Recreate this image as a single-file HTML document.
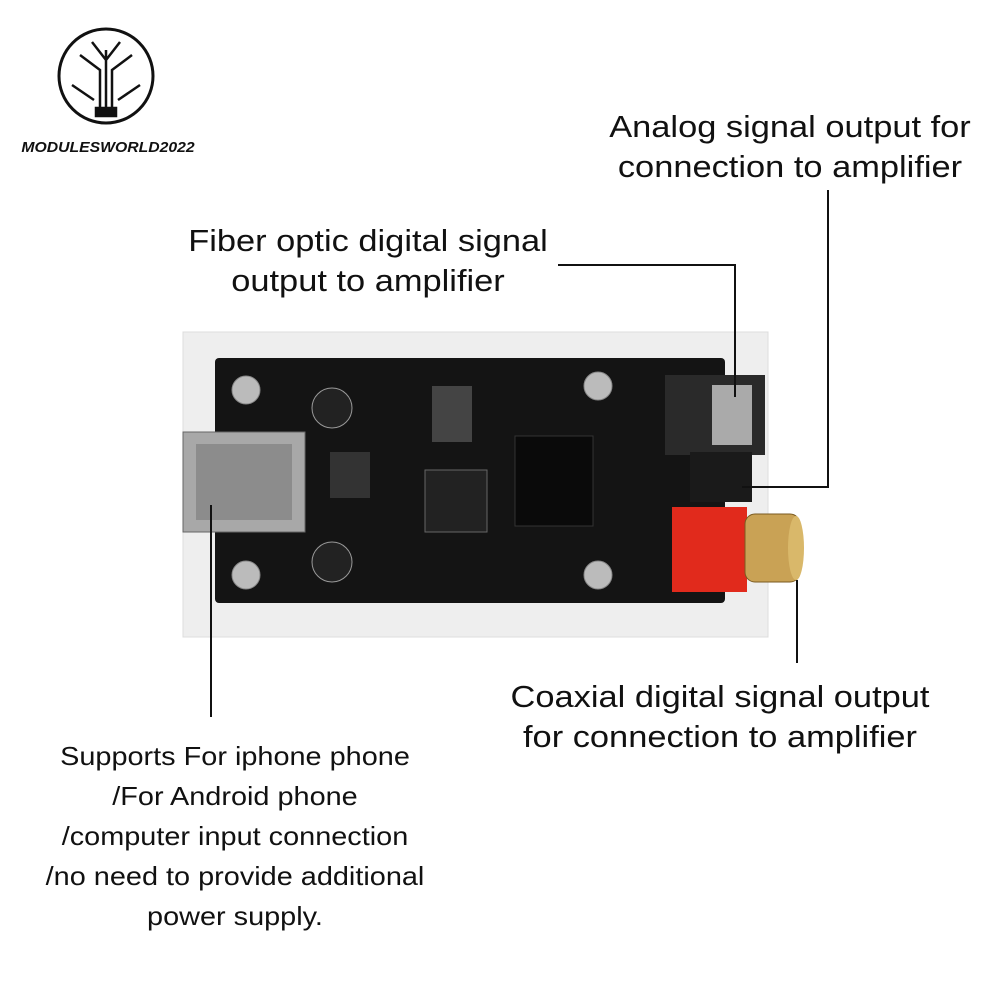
<!DOCTYPE html>
<html><head><meta charset="utf-8"><style>
body{margin:0;width:1000px;height:1000px;background:#fff;position:relative;overflow:hidden;font-family:"Liberation Sans",sans-serif;}
.t{position:absolute;text-align:center;color:#111;white-space:nowrap;transform:scaleX(1.11);transform-origin:center;}
.a{position:absolute;}
</style></head><body>
<svg class="a" style="left:0;top:0" width="1000" height="1000">
 <circle cx="106" cy="76" r="47" fill="#fff" stroke="#111" stroke-width="3"/>
 <g stroke="#111" stroke-width="2.5" fill="none">
  <path d="M106 110 V50 M100 110 V70 L80 55 M112 110 V70 L132 55 M94 100 L72 85 M118 100 L140 85 M106 60 L92 42 M106 60 L120 42"/>
  <rect x="96" y="108" width="20" height="8" fill="#111"/>
 </g>
 <rect x="183" y="332" width="585" height="305" fill="#eeeeee" stroke="#ddd"/>
 <rect x="215" y="358" width="510" height="245" rx="4" fill="#141414"/>
 <g fill="#bbb" stroke="#888"><circle cx="246" cy="390" r="14"/><circle cx="246" cy="575" r="14"/><circle cx="598" cy="386" r="14"/><circle cx="598" cy="575" r="14"/></g>
 <g fill="#222" stroke="#999"><circle cx="332" cy="408" r="20"/><circle cx="332" cy="562" r="20"/></g>
 <rect x="432" y="386" width="40" height="56" fill="#444"/>
 <rect x="425" y="470" width="62" height="62" fill="#222" stroke="#666"/>
 <rect x="515" y="436" width="78" height="90" fill="#0a0a0a" stroke="#333"/>
 <rect x="330" y="452" width="40" height="46" fill="#333"/>
 <rect x="183" y="432" width="122" height="100" fill="#a8a8a8" stroke="#666"/>
 <rect x="196" y="444" width="96" height="76" fill="#8c8c8c"/>
 <rect x="665" y="375" width="100" height="80" fill="#2a2a2a"/>
 <rect x="712" y="385" width="40" height="60" fill="#aaa"/>
 <rect x="690" y="452" width="62" height="50" fill="#1a1a1a"/>
 <rect x="672" y="507" width="75" height="85" fill="#e12a1c"/>
 <rect x="745" y="514" width="55" height="68" rx="10" fill="#c9a255" stroke="#7a5a20"/>
 <ellipse cx="796" cy="548" rx="8" ry="32" fill="#d9b86a"/>
 <g stroke="#111" stroke-width="2" fill="none">
  <path d="M558 265 H735 V397"/>
  <path d="M828 190 V487 H742"/>
  <path d="M797 580 V663"/>
  <path d="M211 505 V717"/>
 </g>
</svg>
<div class="t" style="left:0;width:216px;top:139px;font-size:15px;font-weight:bold;font-style:italic;transform:scaleX(1.05);">MODULESWORLD2022</div>
<div class="t" style="left:590px;width:400px;top:107px;font-size:31px;line-height:40px;">Analog signal output for<br>connection to amplifier</div>
<div class="t" style="left:168px;width:400px;top:221px;font-size:31px;line-height:40px;">Fiber optic digital signal<br>output to amplifier</div>
<div class="t" style="left:480px;width:480px;top:677px;font-size:31px;line-height:40px;">Coaxial digital signal output<br>for connection to amplifier</div>
<div class="t" style="left:20px;width:430px;top:736px;font-size:26px;line-height:40px;">Supports For iphone phone<br>/For Android phone<br>/computer input connection<br>/no need to provide additional<br>power supply.</div>
</body></html>
